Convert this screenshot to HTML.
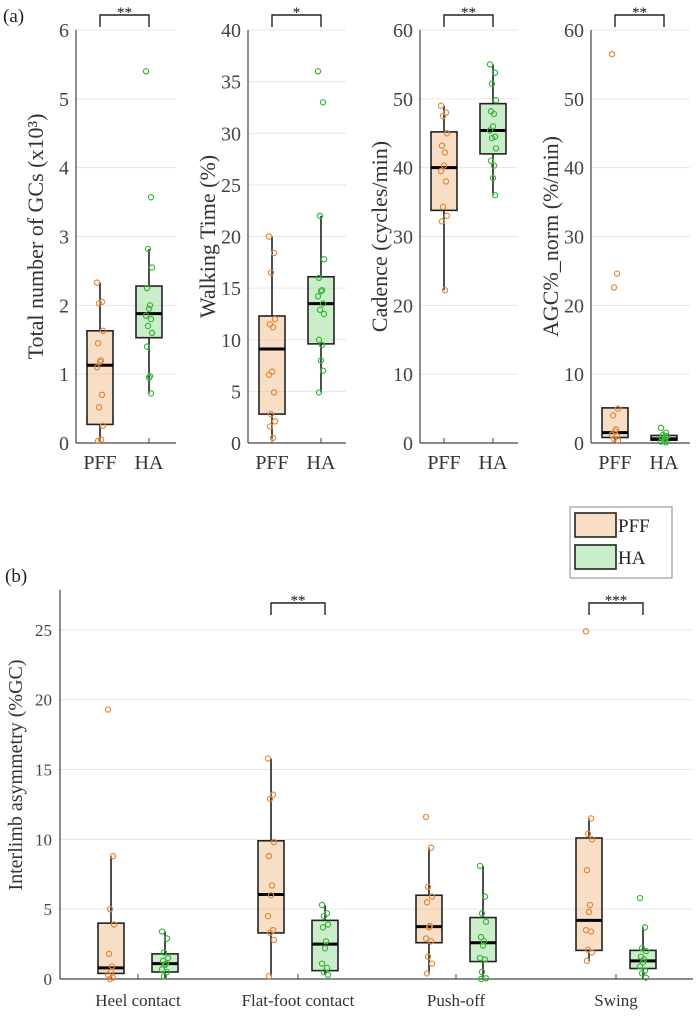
<!DOCTYPE html>
<html><head><meta charset="utf-8"><style>
body{margin:0;background:#fff;}
svg, svg text{font-family:"Liberation Serif","DejaVu Serif",serif;}
</style></head><body>
<svg id="chart" width="699" height="1015" viewBox="0 0 699 1015" xmlns="http://www.w3.org/2000/svg" font-family="Liberation Serif, DejaVu Serif, serif"></svg>
<script>
// ---------- Panel (a) data ----------
const aTitles = ["Total number of GCs (x10³)","Walking Time (%)","Cadence (cycles/min)","AGC%_norm (%/min)"];
const aMax = [6,40,60,60];
const aStep = [1,5,10,10];
const aStars = ["**","*","**","**"];
const aGroups = ["PFF","HA"];
// box stats: [whiskerLow, q1, median, q3, whiskerHigh]
const aPffStats = [[0.03,0.27,1.13,1.63,2.33],[0.5,2.8,9.1,12.3,20],[22.2,33.8,40,45.2,49],[0.3,0.8,1.5,5.1,5.1]];
const aHaStats  = [[0.72,1.53,1.88,2.28,2.82],[4.9,9.6,13.5,16.1,22],[36,42,45.4,49.3,55],[0,0.4,0.6,1.1,1.1]];
const aPffPts = [
 [2.33,2.05,2.03,1.63,1.45,1.2,1.18,1.1,0.7,0.52,0.25,0.03,0.05],
 [20,18.4,16.5,12,11.5,11.2,6.9,6.6,4.9,2.8,2.1,1.6,0.5],
 [49,48,47.5,45,43.2,42.2,40.3,39.5,38,34.3,33,32.2,22.2],
 [56.5,24.6,22.6,5,4,2,1.7,1.2,1,0.6,0.3]];
const aHaPts = [
 [5.4,3.57,2.82,2.55,2.25,2.0,1.95,1.85,1.8,1.7,1.6,1.4,0.97,0.95,0.72],
 [36,33,22,17.8,16,14.8,14.7,14.2,13.5,12.9,12.5,10,9.5,8,7,4.9],
 [55,53.8,52.2,49.8,48.2,47.8,46,45.4,44.5,44.3,42.8,41,40.3,38.5,36],
 [2.2,1.5,1.2,1,0.8,0.5,0.3,0.2,0.1]];
// ---------- Panel (b) data ----------
const bCats = ["Heel contact","Flat-foot contact","Push-off","Swing"];
const bTicks = [0,5,10,15,20,25];
const bStars = ["","**","","***"];
const bPffStats = [[0,0.4,0.8,4.0,8.8],[0.2,3.3,6.05,9.9,15.8],[0.4,2.6,3.75,6.0,9.4],[1.3,2.05,4.2,10.1,11.5]];
const bHaStats  = [[0,0.5,1.1,1.8,3.4],[0.3,0.6,2.5,4.2,5.3],[0,1.25,2.6,4.4,8.1],[0,0.75,1.3,2.05,3.7]];
const bPffPts = [[19.3,8.8,5,3.9,1.8,0.9,0.5,0.3,0.1,0],[15.8,13.2,12.9,9.8,8.8,6.7,6,4.5,3.5,3.3,2.8,0.2],[11.6,9.4,6.6,5.9,5.5,3.8,3.7,2.9,2.7,1.6,1.1,0.4],[24.9,11.5,10.4,10,7.8,5.3,4.8,3.5,3.4,2.1,1.9,1.3]];
const bHaPts = [[3.4,2.9,1.9,1.5,1.3,1.1,1.0,0.7,0.5,0.2],[5.3,4.7,4.5,3.9,3.7,2.7,2.2,1.1,0.8,0.5,0.3],[8.1,5.9,4.7,4.1,3,2.7,2.4,1.5,1.4,0.5,0.05,0],[5.8,3.7,2.2,2.0,1.6,1.4,1.2,0.9,0.6,0.4,0.1]];

const NS="http://www.w3.org/2000/svg";
const svg=document.getElementById('chart');
const FF="Liberation Serif, DejaVu Serif, serif";
function el(tag,attrs,parent,text){const e=document.createElementNS(NS,tag);for(const k in attrs)e.setAttribute(k,attrs[k]);if(tag==='text')e.setAttribute('font-family',FF);if(text!==undefined)e.textContent=text;(parent||svg).appendChild(e);return e;}
const COL={pff:{fill:"rgba(240,190,140,0.5)",pt:"#e0883a"},ha:{fill:"rgba(150,220,150,0.5)",pt:"#3cb43c"}};
const jit=[-3,2,-1,3,-2,1,0,-3,2,-1,3,-2,1,0,2,-2];

function drawBox(g,cx,stats,pts,c,yf,w,name){
  const box=el('g',{},g);
  
  
  const [lo,q1,md,q3,hi]=stats;
  el('line',{x1:cx,x2:cx,y1:yf(hi),y2:yf(q3),stroke:"#222","stroke-width":1.6},box);
  el('line',{x1:cx,x2:cx,y1:yf(q1),y2:yf(lo),stroke:"#222","stroke-width":1.6},box);
  el('rect',{x:cx-w/2,y:yf(q3),width:w,height:Math.max(1,yf(q1)-yf(q3)),fill:c.fill,stroke:"#222","stroke-width":1.6},box);
  el('line',{x1:cx-w/2,x2:cx+w/2,y1:yf(md),y2:yf(md),stroke:"#000","stroke-width":3},box);
  pts.forEach((v,i)=>{const p=el('circle',{cx:cx+jit[i%jit.length],cy:yf(v),r:2.6,fill:"none",stroke:c.pt,"stroke-width":1.2},box);
    
    });
}
function bracket(g,x1,x2,y,stars,name){
  const b=el('g',{},g);
  
  
  el('path',{d:`M${x1},${y+12} V${y} H${x2} V${y+12}`,fill:"none",stroke:"#222","stroke-width":1.4},b);
  el('text',{x:(x1+x2)/2,y:y+2,"text-anchor":"middle","font-size":15,fill:"#111"},b,stars);
}

// ---------- Panel (a) ----------
const aAxisX=[76,248,420,591], aW=[100,98,98,99];
const aTop=30,aBot=443;
el('text',{x:3,y:22,"font-size":19,fill:"#222"},svg,"(a)");
for(let k=0;k<4;k++){
  const g=el('g',{});
  
  
  const ax=aAxisX[k],yf=v=>aBot-(v/aMax[k])*(aBot-aTop);
  for(let t=0;t<=aMax[k];t+=aStep[k]){
    if(t>0) el('line',{x1:ax,x2:ax+aW[k],y1:yf(t),y2:yf(t),stroke:"#e6e6e6","stroke-width":1},g);
    const tl=el('text',{x:ax-7,y:yf(t)+7,"text-anchor":"end","font-size":20,fill:"#444"},g,String(t));
    
  }
  el('line',{x1:ax,x2:ax,y1:aTop,y2:aBot,stroke:"#444","stroke-width":1.2},g);
  el('line',{x1:ax,x2:ax+aW[k],y1:aBot,y2:aBot,stroke:"#444","stroke-width":1.2},g);
  const xp=ax+24,xh=ax+73;
  [xp,xh].forEach((x,i)=>{el('line',{x1:x,x2:x,y1:aBot,y2:aBot-5,stroke:"#444"},g);
    el('text',{x:x,y:aBot+26,"text-anchor":"middle","font-size":20,fill:"#333"},g,aGroups[i]);});
  const lx=ax-33,ly=(aTop+aBot)/2;
  const yl=el('text',{x:lx,y:ly,transform:`rotate(-90 ${lx} ${ly})`,"text-anchor":"middle","font-size":22,fill:"#333"},g,aTitles[k]);
  
  drawBox(g,xp,aPffStats[k],aPffPts[k],COL.pff,yf,26,'box-pff');
  drawBox(g,xh,aHaStats[k],aHaPts[k],COL.ha,yf,26,'box-ha');
  bracket(g,xp,xh,15,aStars[k],'significance-bracket');
}

// ---------- Panel (b) ----------
const bx0=60,bx1=693,bTop=590,bBot=979,bMaxY=27.86;
const byf=v=>bBot-(v/bMaxY)*(bBot-bTop);
const catC=[138,298,456,616];
const gb=el('g',{});


el('text',{x:5,y:582,"font-size":19,fill:"#222"},gb,"(b)");
bTicks.forEach(t=>{
  if(t>0) el('line',{x1:bx0,x2:bx1,y1:byf(t),y2:byf(t),stroke:"#e6e6e6"},gb);
  el('text',{x:bx0-8,y:byf(t)+6,"text-anchor":"end","font-size":17,fill:"#444"},gb,String(t));
});
el('line',{x1:bx0,x2:bx0,y1:bTop,y2:bBot,stroke:"#444","stroke-width":1.2},gb);
el('line',{x1:bx0,x2:bx1,y1:bBot,y2:bBot,stroke:"#444","stroke-width":1.2},gb);
const ylb=el('text',{x:22,y:775,transform:"rotate(-90 22 775)","text-anchor":"middle","font-size":20,fill:"#333"},gb,"Interlimb asymmetry (%GC)");

bCats.forEach((c,i)=>{
  const cx=catC[i];
  el('line',{x1:cx,x2:cx,y1:bBot,y2:bBot-5,stroke:"#444"},gb);
  el('text',{x:cx,y:bBot+27,"text-anchor":"middle","font-size":17,fill:"#333"},gb,c);
  drawBox(gb,cx-27,bPffStats[i],bPffPts[i],COL.pff,byf,26,'box-pff-'+i);
  drawBox(gb,cx+27,bHaStats[i],bHaPts[i],COL.ha,byf,26,'box-ha-'+i);
  if(bStars[i]) bracket(gb,cx-27,cx+27,603,bStars[i],'significance-bracket');
});
// legend
const lg=el('g',{},gb);


el('rect',{x:570,y:507,width:102,height:71,fill:"#fff",stroke:"#888","stroke-width":1},lg);
[["PFF",COL.pff.fill],["HA",COL.ha.fill]].forEach((d,i)=>{
  const y=513+i*32;
  const e=el('g',{},lg);
  
  
  el('rect',{x:575,y:y,width:41,height:24,fill:d[1],stroke:"#222","stroke-width":1.6},e);
  el('text',{x:618,y:y+19,"font-size":19,fill:"#222"},e,d[0]);
});
</script>
</body></html>
